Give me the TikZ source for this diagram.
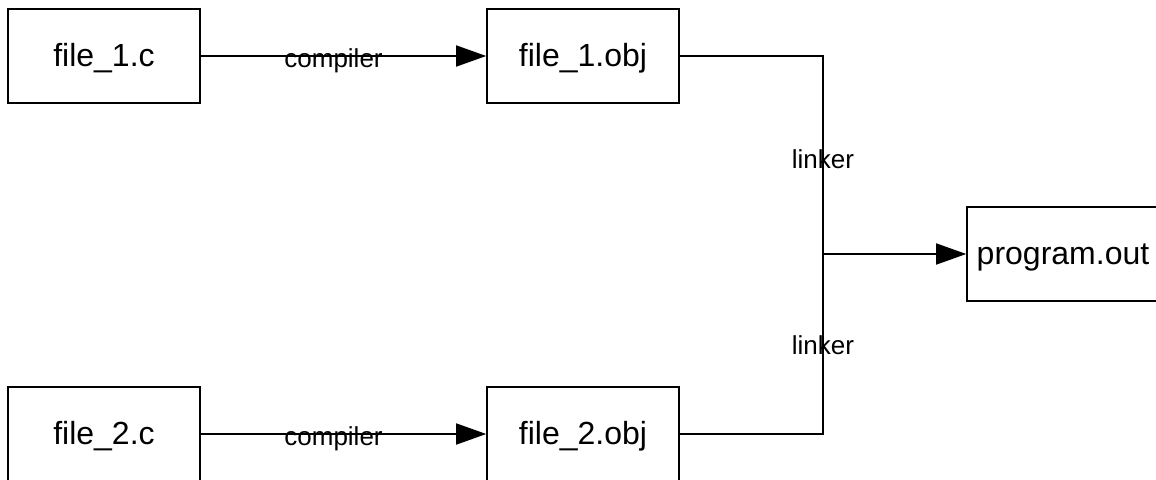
\documentclass[tikz,border=0pt]{standalone}
\usepackage{fontspec}
\setmainfont{Liberation Sans}
\usetikzlibrary{arrows.meta}
\begin{document}
\begin{tikzpicture}[x=1pt,y=-1pt,
  filebox/.style={draw=black,line width=1.6pt,minimum width=192pt,minimum height=94pt,inner sep=0pt,text height=28pt,text depth=7pt,font=\fontsize{32}{38}\selectfont},
  conn/.style={draw=black,line width=1.6pt},
  arr/.style={conn,-{Triangle[length=30pt,width=21pt]}},
  lbl/.style={font=\fontsize{26}{30}\selectfont,inner sep=0pt}]
\useasboundingbox (0,0) rectangle (1156,479);
\node[filebox] (f1c) at (104,56) {file\_1.c};
\node[filebox] (f1o) at (583,56) {file\_1.obj};
\node[filebox] (f2c) at (104,434) {file\_2.c};
\node[filebox] (f2o) at (583,434) {file\_2.obj};
\node[filebox] (out) at (1063,254) {program.out};
\coordinate (j) at (823,254);
\draw[arr] (f1c) -- node[lbl,pos=0.465,yshift=-5pt] {compiler} (f1o);
\draw[arr] (f2c) -- node[lbl,pos=0.465,yshift=-5pt] {compiler} (f2o);
\draw[conn] (f1o.east) -| node[lbl,pos=0.76] {linker} (j);
\draw[conn] (f2o.east) -| node[lbl,pos=0.747] {linker} (j);
\draw[arr] (j) -- (out);
\end{tikzpicture}
\end{document}
